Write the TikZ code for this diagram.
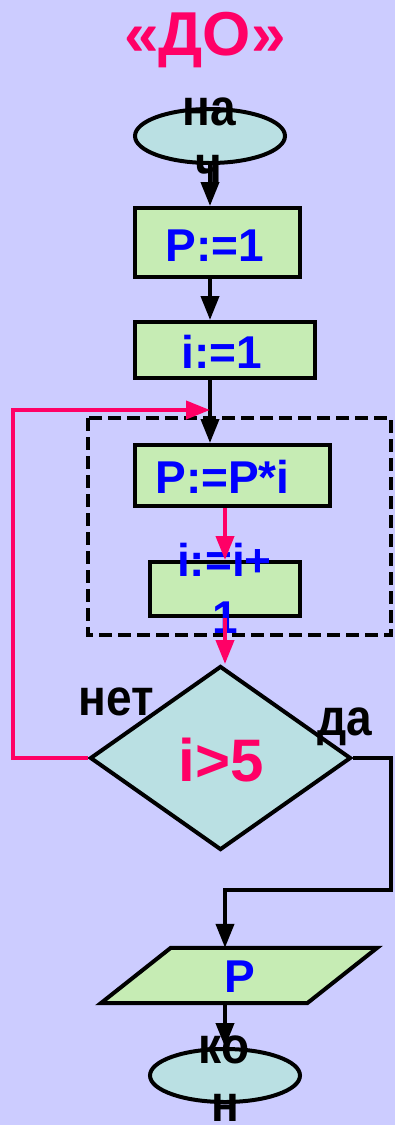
\documentclass[tikz,border=0pt]{standalone}
\usepackage{fontspec}
\setmainfont{Liberation Sans}
\usetikzlibrary{shapes.geometric,arrows.meta}
\definecolor{bg}{HTML}{CCCCFF}
\definecolor{boxgreen}{HTML}{C6ECB4}
\definecolor{termfill}{HTML}{BAE0E3}
\definecolor{hot}{HTML}{FF0066}
\definecolor{txtblue}{HTML}{0000FF}
% slightly taller lettering for the black captions
\newcommand{\tall}[1]{\scalebox{1}[1.12]{#1}}
\begin{document}
\begin{tikzpicture}[x=1pt,y=-1pt,
  proc/.style={rectangle, draw=black, line width=4pt, fill=boxgreen, inner sep=0pt},
  term/.style={ellipse, draw=black, line width=4pt, fill=termfill, inner sep=0pt},
  txt/.style={font=\bfseries\fontsize{46}{57}\selectfont, inner sep=0pt, anchor=base},
  flow/.style={draw=black, line width=4pt, -{Triangle[width=18pt,length=24pt]}},
  hotflow/.style={flow, draw=hot},
  frame/.style={draw=black, line width=4pt, dash pattern=on 13pt off 6pt}
]
% canvas
\useasboundingbox (0,0) rectangle (395,1125);
\fill[bg] (0,0) rectangle (395,1125);

% title
\node[font=\bfseries\fontsize{62}{70}\selectfont, text=hot, inner sep=0pt, anchor=base] (title) at (205,55) {«ДО»};

% loop body frame
\draw[frame] (88,418) rectangle (391,635);

% shapes
\node[term, minimum width=150pt, minimum height=54pt] (start) at (210,136) {};
\node[proc, minimum width=165pt, minimum height=69pt] (p1) at (217.5,242.5) {};
\node[proc, minimum width=180pt, minimum height=56pt] (init) at (225,350) {};
\node[proc, minimum width=195pt, minimum height=61pt] (body) at (232.5,475.5) {};
\node[proc, minimum width=150pt, minimum height=54pt] (inc) at (225,589) {};
\node[diamond, draw=black, line width=4pt, fill=termfill, inner sep=0pt,
      minimum width=261pt, minimum height=184pt] (cond) at (220.5,758) {};
% output block: a parallelogram around an invisible frame node
\node[rectangle, inner sep=0pt, minimum width=206pt, minimum height=55pt] (outp) at (239,975.5) {};
\draw[line width=4pt, fill=boxgreen, line join=miter]
  ([xshift=35pt]outp.north west) -- ([xshift=35pt]outp.north east)
  -- ([xshift=-35pt]outp.south east) -- ([xshift=-35pt]outp.south west) -- cycle;
\node[term, minimum width=150pt, minimum height=53pt] (stop) at (225,1075.5) {};

% texts
\node[txt] (startA) at (209,125) {\tall{на}};
\node[txt] (startB) at (209,182) {\tall{ч}};
\node[txt, text=txtblue] (p1t) at (215,261) {P:=1};
\node[txt, text=txtblue] (initt) at (222,368) {i:=1};
\node[txt, text=txtblue] (bodyt) at (222.5,493) {P:=P*i};
\node[txt, text=txtblue] (incA) at (224.5,576) {i:=i+};
\node[txt, text=txtblue] (incB) at (225,633) {1};
\node[font=\bfseries\fontsize{60}{70}\selectfont, text=hot, inner sep=0pt, anchor=base] (condt) at (221.5,781) {i>5};
\node[txt] (no) at (116.5,715) {\tall{нет}};
\node[txt] (yes) at (345,735) {\tall{да}};
\node[txt, text=txtblue] (outt) at (240,992) {P};
\node[txt] (stopA) at (224,1063) {\tall{ко}};
\node[txt] (stopB) at (225,1121) {\tall{н}};

% helper points for the loop back and the exit branch
\coordinate (join) at (210,410);
\coordinate (loopT) at (13,410);
\coordinate (yesR) at (391,890);

% connectors
\draw[flow] (start.south) -- (start.south |- p1.north);
\draw[flow] (p1.south -| start.south) -- (init.north -| start.south);
\draw[flow] (init.south -| join) -- (body.north -| join);
\draw[hotflow] (body.south -| inc.north) -- (inc.north);
\draw[hotflow] (inc.south) -- (inc.south |- cond.north);
\draw[hotflow] (cond.west) -| (loopT) -- (join);
\draw[flow] (cond.east) -| (yesR) -| (outp.north -| stop.north);
\draw[flow] (outp.south -| stop.north) -- (stop.north);
\end{tikzpicture}
\end{document}
